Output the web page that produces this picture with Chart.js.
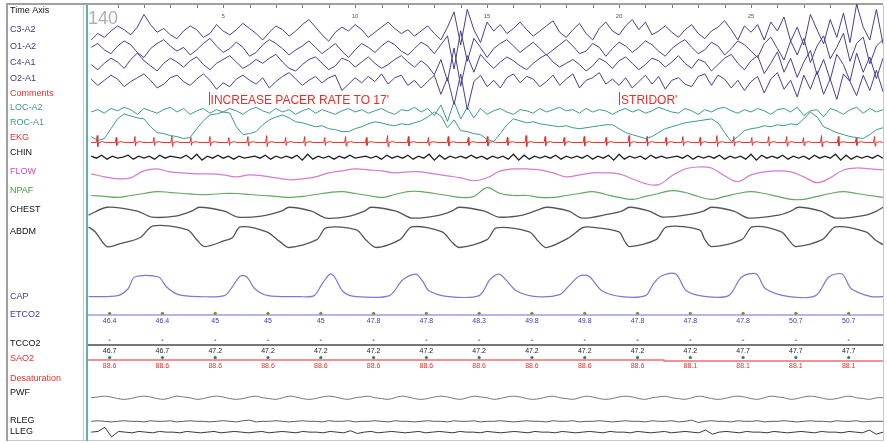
<!DOCTYPE html>
<html>
<head>
<meta charset="utf-8">
<script src="https://cdn.jsdelivr.net/npm/chart.js@4.4.1/dist/chart.umd.min.js"></script>
<style>
body { margin: 0; background: #fff; }
#wrap { width: 887px; height: 443px; position: relative; }
</style>
</head>
<body>
<div id="wrap"><canvas id="psg"></canvas></div>
<script>
// epoch 140, 30 s page
const tStart = 0, tEnd = 30;
const timeTicks = [5, 10, 15, 20, 25];
const epochNo = '140';

const channelNames = ['Time Axis', 'C3-A2', 'O1-A2', 'C4-A1', 'O2-A1', 'Comments', 'LOC-A2', 'ROC-A1', 'EKG', 'CHIN',
  'FLOW', 'NPAF', 'CHEST', 'ABDM', 'CAP', 'ETCO2', 'TCCO2', 'SAO2', 'Desaturation', 'PWF', 'RLEG', 'LLEG'];

// EEG, sampled every 0.25 s
const c3a2 = [-2,3,0,5,9,6,2,8,18,10,4,7,2,-1,5,9,6,0,3,10,5,
  2,6,11,7,3,-2,4,9,6,1,5,10,14,8,2,-3,4,8,5,10,
  6,0,4,8,12,7,3,6,1,5,9,3,-2,8,20,-6,22,6,-4,12,
  5,10,3,7,12,6,1,5,9,13,4,0,6,11,3,-2,7,12,5,2,
  9,14,6,12,2,5,9,4,0,6,10,3,-1,5,8,13,6,-2,9,4,
  10,-2,12,5,16,-3,8,-6,18,6,-5,14,0,19,-4,26,8,-2,22,-5];
const o1a2 = [3,6,1,-2,4,8,5,-1,-5,2,6,9,4,0,3,-3,1,6,10,4,-1,
  2,7,3,-4,-1,5,9,6,2,-3,1,4,8,3,-2,2,6,0,-5,1,
  6,3,-1,4,8,5,0,-3,2,7,4,-2,5,12,-14,16,-8,10,3,-5,
  2,6,9,4,-1,3,7,2,-3,1,5,9,4,-2,0,6,3,-4,2,7,
  4,-1,3,8,5,0,-4,2,6,9,3,-2,1,7,4,-3,2,8,5,0,
  -5,6,11,2,-7,8,-3,10,-9,4,12,-6,3,14,-8,6,11,-10,4,9];
const c4a1 = [1,-3,2,6,3,-2,5,10,4,0,-4,2,6,3,-1,4,7,1,-3,2,5,
  8,3,-2,1,5,2,6,9,3,-2,-4,1,5,7,2,-3,0,6,4,-1,
  3,7,2,-2,1,5,8,3,-1,4,0,-7,5,-12,14,-16,8,-5,9,3,
  -2,3,7,4,0,-3,2,6,9,3,-1,2,5,1,-4,0,6,3,-2,4,
  7,2,-3,1,6,4,-1,3,8,2,-2,5,3,-4,1,6,9,2,-3,4,
  8,-6,2,11,-5,6,-9,3,12,-7,5,-11,9,1,-12,10,-5,7,-10,6];
const o2a1 = [2,-3,1,5,2,-4,0,3,6,1,-5,-2,3,5,0,-3,2,6,1,-6,-1,
  -4,2,5,1,-2,3,-5,0,4,7,2,-3,1,4,-1,3,5,-7,-2,3,
  -1,4,0,6,-2,3,5,-3,1,-5,0,5,-10,3,-18,6,-22,0,5,-4,
  1,-5,3,6,-1,4,2,-4,0,5,-3,2,6,-5,1,3,7,-2,2,-3,
  3,-5,0,5,-2,4,-6,1,3,-2,-4,4,6,-3,5,2,-5,1,-7,0,
  4,-9,2,7,-6,1,-12,5,-6,8,-10,2,-14,6,0,-11,5,-7,9,-8];

// EOG, every 0.25 s
const locA2 = [0,2,-1,3,1,4,2,-2,3,1,-1,2,4,0,3,-2,1,3,-1,2,0,
  3,1,-2,2,4,1,-1,3,0,2,-2,1,3,-1,2,0,-2,1,3,0,
  2,-1,1,3,0,-2,2,1,4,0,3,-3,6,-8,9,-6,4,-5,3,-2,
  1,3,0,-2,2,1,-1,3,0,2,4,1,2,-1,3,0,2,1,-2,1,
  3,0,2,-1,1,4,2,0,-1,3,1,-2,2,0,3,4,1,-1,2,0,
  3,1,-2,2,3,0,4,-3,1,2,-4,3,1,-2,2,4,-1,3,0,2];
const rocA1 = [-12,-16,-14,-4,6,11,9,7,6,-2,-8,-9,-11,-12,-14,-13,-4,4,10,11,13,
  12,-2,-10,-9,-7,0,5,8,10,7,3,2,0,-2,-1,-4,-5,-7,-7,-4,
  -2,1,3,2,0,-1,1,0,2,4,8,13,9,-3,5,-6,-7,-9,-10,-15,
  -17,-9,0,6,4,2,3,1,0,-1,-2,-1,-3,-4,-3,-2,-1,0,0,-4,
  -8,-10,-12,-14,-12,-8,-4,-2,0,2,3,4,5,6,2,-8,-17,-12,-6,-4,
  -3,-1,-2,0,-1,1,0,6,13,8,-2,-5,-8,-10,-12,-13,-14,-10,-5,-3];

// EKG: R-wave times (s) and their heights
const ekgBeats = [0.23,0.95,1.66,2.38,3.06,3.78,4.5,5.22,5.94,6.65,7.37,8.09,8.85,9.64,10.43,11.23,12.02,12.78,13.53,14.29,
  15.01,15.77,16.48,17.2,17.92,18.68,19.51,20.38,21.06,21.78,22.42,23.07,23.71,24.35,25.03,25.67,26.35,26.99,27.67,28.31,28.99,29.68];
const ekgHeights = [7,5,6,5,7,5,6,5,6,7,5,6,5,6,5,7,6,5,6,5,6,5,7,6,5,6,5,7,6,5,6,5,7,6,5,6,6,5,7,6,5,6];

// CHIN EMG, every 0.2 s
const chin = [1,-1,2,-2,1,-1,0,2,-2,1,-1,1,-2,2,-1,1,0,-1,2,-2,3,-3,1,-1,2,-1,1,-2,1,-1,
  0,1,-1,2,-2,1,-1,1,-1,2,-3,3,-2,1,-1,1,-2,1,-1,2,-1,0,1,-1,1,-2,2,-1,1,-1,
  2,-2,1,-1,3,-3,2,-2,1,-1,1,-1,2,-1,1,-2,1,-1,1,-2,3,-3,2,-2,1,-1,1,-1,2,-2,
  1,-1,1,-1,2,-2,1,-1,2,-3,3,-2,1,-1,1,-2,2,-1,1,-1,0,1,-1,2,-2,1,-1,1,-1,2,
  -2,1,-1,1,-2,3,-3,2,-1,1,-1,2,-2,1,-1,1,-2,2,-1,1,-1,3,-3,2,-2,1,-1,1,-1,2,-1];

// airflow, every 0.5 s
const flow = [0,-3,-5,-4,3,5,2,1,0,0,-1,-3,-1,-2,-4,-6,-5,-3,1,3,5,4,3,1,2,2,0,-2,-4,-7,
  -4,3,5,5,4,1,-3,-1,1,1,0,-5,-10,-11,-2,5,7,6,-2,-8,-1,2,3,2,-3,-9,-4,4,6,5,4];
const npaf = [0,-1,-2,0,2,4,3,2,1,1,2,2,1,0,-1,-2,-1,1,3,4,2,0,-2,1,4,4,2,0,-2,-1,
  8,2,0,0,-2,-2,0,2,4,1,-2,-4,-1,2,5,3,-1,-4,-1,2,4,2,-1,-4,-4,-1,2,4,2,0,-2];

// effort belts and capnogram, [time s, value]
const chest = [[-0.1,-3],[0.6,5],[1.75,1],[2.3,-5],[3.2,-4],[3.8,1],[4.1,5],[5.05,1],[5.55,-5],[6.45,-4],[7.2,1],[7.5,5],
  [8.35,1],[8.9,-6],[9.8,-4],[10.35,1],[10.6,5],[11.55,1],[12.15,-6],[13.2,-3],[13.65,1],[13.95,5],[14.9,1],[15.45,-5],
  [16.35,-3],[16.9,2],[17.25,5],[18.1,1],[18.6,-6],[19.6,-2],[20.1,1],[20.4,5],[21.15,1],[21.65,-5],[22.75,-2],[23.2,1],
  [23.5,5],[24.35,1],[24.9,-6],[26.05,-3],[26.5,1],[26.8,5],[27.65,1],[28.2,-6],[29.35,-3],[29.75,1],[30,5]];
const abdm = [[-0.1,10],[0.15,5],[0.6,-10],[1.1,-7],[1.85,-1],[2.35,11],[3.65,7],[4.0,-3],[4.3,-10],[5.05,-4],[5.35,-1],
  [5.65,10],[6.65,5],[7.15,-5],[7.5,-11],[8.55,-3],[8.9,9],[10.05,7],[10.4,-3],[10.8,-11],[11.7,-3],[12.15,10],[13.3,5],
  [13.65,-5],[13.95,-11],[15.0,-3],[15.35,9],[16.6,5],[16.95,-5],[17.25,-11],[18.1,-1],[18.6,9],[18.85,10],[20.0,5],
  [20.2,-4],[20.4,-10],[21.4,-3],[21.8,10],[23.05,7],[23.25,-3],[23.5,-10],[24.65,-3],[25.05,10],[26.15,5],[26.45,-4],
  [26.7,-10],[27.7,-3],[28.2,10],[29.35,5],[29.7,-3],[30,-8]];
const cap = [[-0.1,0],[1.0,1],[1.4,8],[1.65,20],[2.55,20],[2.85,10],[3.3,2],[4.1,0],[5.05,1],[5.35,10],[5.65,21],[5.9,20],
  [6.2,8],[6.7,1],[7.9,0],[8.45,1],[8.75,13],[9.05,23],[9.2,21],[9.55,5],[10.05,0],[11.3,1],[11.8,17],[12.3,23],[12.55,16],
  [12.8,6],[13.55,0],[14.7,1],[15.1,17],[15.45,23],[15.75,16],[16.1,6],[16.85,0],[17.75,2],[18.1,11],[18.5,21],[18.85,21],
  [19.35,6],[20.1,0],[21.0,1],[21.3,13],[21.6,21],[22.15,23],[22.55,6],[23.3,0],[24.15,1],[24.65,20],[25.2,23],[25.55,8],
  [26.45,0],[27.45,1],[27.95,20],[28.45,23],[28.8,8],[29.55,0],[30,0]];

// trend values, one every 2 s
const trendTimes = [0.7,2.7,4.7,6.7,8.7,10.7,12.7,14.7,16.7,18.7,20.7,22.7,24.7,26.7,28.7];
const etco2 = [46.4,46.4,45,45,45,47.8,47.8,48.3,49.8,49.8,47.8,47.8,47.8,50.7,50.7];
const tcco2 = [46.7,46.7,47.2,47.2,47.2,47.2,47.2,47.2,47.2,47.2,47.2,47.2,47.7,47.7,47.7];
const sao2 = [88.6,88.6,88.6,88.6,88.6,88.6,88.6,88.6,88.6,88.6,88.6,88.1,88.1,88.1,88.1];

// pulse wave and legs, every 0.25 s
const pwf = [0,1,2,1,-1,-2,-1,1,2,1,-1,-2,0,2,1,0,-2,-1,1,2,1,-1,-2,-1,1,2,0,-1,-2,0,2,1,-1,-2,-1,1,2,1,-1,-2,
  0,1,2,0,-1,-2,0,2,1,-1,-2,-1,1,2,1,-1,-2,0,2,1,0,-2,-1,1,2,1,-1,-2,-1,1,2,0,-1,-2,0,2,1,-1,-2,-1,
  1,2,1,-1,-2,0,1,2,0,-1,-2,0,2,1,-1,-2,-1,1,2,1,-1,-2,0,2,1,0,-2,-1,1,2,1,-1,-2,-1,1,2,0,-1,-2,0,0];
const rleg = [0,1,0,-1,0,1,0,0,-1,1,0,0,1,-1,0,1,0,0,-1,0,1,0,-1,1,2,-1,0,0,1,0,-1,0,1,0,0,-1,1,0,0,1,
  -1,0,0,1,0,-1,1,0,0,-1,0,1,0,0,-1,1,0,0,1,-1,0,0,1,0,-1,0,1,0,0,-1,1,0,0,1,-1,0,0,1,0,-1,
  0,1,0,0,-1,1,0,0,1,-1,0,2,-2,0,1,0,0,-1,1,0,0,1,-1,0,0,1,0,-1,0,1,0,0,-1,1,0,0,1,-1,0,0,0];
const lleg = [0,1,7,-7,1,0,-1,1,0,-1,1,0,0,-1,1,0,-1,0,1,-1,0,1,0,-1,0,1,-1,0,1,0,-1,1,0,0,-1,1,0,-1,2,-2,
  0,1,-1,0,1,0,-1,0,1,-1,0,1,0,-1,1,0,0,-1,1,0,-1,0,1,0,-1,1,0,0,-1,1,0,-1,0,1,0,-1,1,0,0,-1,
  1,0,-1,0,1,-1,0,1,0,-1,3,-3,0,1,0,-1,1,0,0,-1,1,0,-1,0,1,0,-1,1,0,0,-1,1,0,-1,3,-3,0];

const commentTimes = [4.45, 20.0];
const commentTexts = ["INCREASE PACER RATE TO 17'", "STRIDOR'"];

// ---- layout (pixel rows of the montage) ----
const labelY = [11,30,47,63,79,94,108,123,138,153,172,191,210,232,297,315,344,359,379,393,421,432];
const RED = '#e5302c', NAVY = '#46418e', TEAL = '#3a9a8e';
const labelColor = ['#111','#3d3a8a','#3d3a8a','#3d3a8a','#3d3a8a',RED,TEAL,TEAL,RED,'#111','#d04cc8','#3f9a3f','#111','#111',
  '#3b3bb0','#3b3bb0','#111',RED,RED,'#111','#111','#111'];

function onGrid(vals, base, gain) {
  const n = vals.length;
  return vals.map((v, i) => ({ x: tStart + i * (tEnd - tStart) / (n - 1), y: base - v * gain }));
}
function onKnots(pts, base, gain) {
  return pts.map(p => ({ x: p[0], y: base - p[1] * gain }));
}
function ekgTrace(base) {
  const pts = [{ x: tStart, y: base }];
  ekgBeats.forEach((tb, i) => {
    const h = ekgHeights[i];
    pts.push({ x: tb - 0.04, y: base }, { x: tb, y: base - h }, { x: tb + 0.02, y: base + h * 0.6 },
      { x: tb + 0.05, y: base }, { x: tb + 0.2, y: base - 0.8 }, { x: tb + 0.3, y: base });
  });
  pts.push({ x: tEnd, y: base });
  return pts;
}
function line(data, color, width, tension) {
  return { data, borderColor: color, borderWidth: width, tension: tension || 0, pointRadius: 0, fill: false };
}

const datasets = [
  line(onGrid(c3a2, 34, 1.3), NAVY, 1),
  line(onGrid(o1a2, 48, 1.3), NAVY, 1),
  line(onGrid(c4a1, 63, 1.3), NAVY, 1),
  line(onGrid(o2a1, 79, 1.3), NAVY, 1),
  line(onGrid(locA2, 110, 1.2), TEAL, 1),
  line(onGrid(rocA1, 123, 1), TEAL, 1),
  line(ekgTrace(141), RED, 1),
  line(onGrid(chin, 156, 1), '#222', 1.3),
  line(onGrid(flow, 173, 1), '#d27bd2', 1.2, 0.4),
  line(onGrid(npaf, 195, 1), '#62a862', 1.2, 0.4),
  line(onKnots(chest, 212, 1), '#555', 1.3, 0.3),
  line(onKnots(abdm, 237, 1), '#555', 1.3, 0.3),
  line(onKnots(cap, 298, 1), '#7b78d6', 1.2, 0.3),
  line(onGrid(pwf, 401, 0.8), '#777', 1, 0.4),
  line(onGrid(rleg, 425, 0.6), '#333', 0.8),
  line(onGrid(lleg, 436, 0.7), '#222', 0.9),
  { data: trendTimes.map(t => ({ x: t, y: 315 })), showLine: false, pointRadius: 1.6, pointBackgroundColor: '#8c8a2a', pointBorderWidth: 0 },
  { data: trendTimes.map(t => ({ x: t, y: 342.5 })), showLine: false, pointStyle: 'triangle', pointRadius: 1.6, pointBackgroundColor: '#999', pointBorderWidth: 0 },
  { data: trendTimes.map(t => ({ x: t, y: 360 })), showLine: false, pointRadius: 1.6, pointBackgroundColor: '#2a7a7a', pointBorderWidth: 0 }
];

function trendLine(ctx, xs, area, vals, base, gain, color, width) {
  const yOf = v => base + (vals[0] - v) * gain;
  ctx.strokeStyle = color; ctx.lineWidth = width;
  ctx.beginPath();
  ctx.moveTo(area.left, yOf(vals[0]));
  for (let i = 1; i < vals.length; i++) {
    const xm = xs.getPixelForValue((trendTimes[i - 1] + trendTimes[i]) / 2);
    ctx.lineTo(xm, yOf(vals[i - 1]));
    ctx.lineTo(xm, yOf(vals[i]));
  }
  ctx.lineTo(area.right, yOf(vals[vals.length - 1]));
  ctx.stroke();
}

const montage = {
  id: 'montage',
  beforeDatasetsDraw(chart) {
    const ctx = chart.ctx, xs = chart.scales.x, a = chart.chartArea;
    ctx.save();
    // frame
    ctx.fillStyle = '#a0a0a0';
    ctx.fillRect(6, 3, a.right - 6, 2);
    ctx.fillRect(6, 3, 2, 438);
    ctx.fillStyle = '#c8c8c8';
    ctx.fillRect(83, 5, 1, 436);
    ctx.fillRect(a.right, 5, 1, 436);
    ctx.fillRect(8, 440, a.right - 8, 1);
    ctx.fillStyle = '#5fb0a8';
    ctx.fillRect(86, 5, 2, 436);
    // epoch number
    ctx.fillStyle = 'rgba(140,140,140,0.7)';
    ctx.font = '18px "Liberation Sans", Arial, sans-serif';
    ctx.textBaseline = 'alphabetic';
    ctx.fillText(epochNo, 88, 24);
    // time axis
    ctx.strokeStyle = '#777'; ctx.lineWidth = 1;
    for (let s = 1; s < tEnd; s++) {
      const x = Math.round(xs.getPixelForValue(s)) + 0.5;
      ctx.beginPath(); ctx.moveTo(x, 5); ctx.lineTo(x, 8); ctx.stroke();
    }
    ctx.fillStyle = '#555';
    ctx.font = '6px "Liberation Sans", Arial, sans-serif';
    ctx.textAlign = 'center'; ctx.textBaseline = 'middle';
    timeTicks.forEach(t => ctx.fillText(String(t), xs.getPixelForValue(t), 16));
    // trend channels
    trendLine(ctx, xs, a, etco2, 315, 0, '#6a6ad8', 1);
    trendLine(ctx, xs, a, tcco2, 345, 0, '#777', 2);
    trendLine(ctx, xs, a, sao2, 360, 2, '#ee7070', 1.5);
    ctx.restore();
  },
  afterDatasetsDraw(chart) {
    const ctx = chart.ctx, xs = chart.scales.x;
    ctx.save();
    // channel labels
    ctx.font = '9px "Liberation Sans", Arial, sans-serif';
    ctx.textAlign = 'left'; ctx.textBaseline = 'middle';
    channelNames.forEach((n, i) => { ctx.fillStyle = labelColor[i]; ctx.fillText(n, 10, labelY[i]); });
    // comments
    ctx.font = '12px "Liberation Sans", Arial, sans-serif';
    ctx.textBaseline = 'alphabetic';
    commentTimes.forEach((t, i) => {
      const x = xs.getPixelForValue(t);
      ctx.fillStyle = RED;
      ctx.fillRect(Math.round(x), 92, 1, 13);
      ctx.fillText(commentTexts[i], x + 2, 104);
    });
    // trend value labels
    ctx.font = '7px "Liberation Sans", Arial, sans-serif';
    ctx.textAlign = 'center'; ctx.textBaseline = 'middle';
    trendTimes.forEach((t, i) => {
      const x = xs.getPixelForValue(t);
      ctx.fillStyle = '#3b3bb0'; ctx.fillText(String(etco2[i]), x, 321);
      ctx.fillStyle = '#222'; ctx.fillText(String(tcco2[i]), x, 351);
      ctx.fillStyle = RED; ctx.fillText(String(sao2[i]), x, 366);
    });
    ctx.restore();
  }
};

new Chart(document.getElementById('psg'), {
  type: 'line',
  data: { datasets },
  options: {
    responsive: true,
    maintainAspectRatio: false,
    animation: false,
    devicePixelRatio: 1,
    layout: { padding: { left: 88, right: 3, top: 0, bottom: 0 } },
    plugins: { legend: { display: false }, tooltip: { enabled: false } },
    scales: {
      x: { type: 'linear', min: -0.12, max: 30, display: false },
      y: { min: 0, max: 443, reverse: true, display: false }
    }
  },
  plugins: [montage]
});
</script>
</body>
</html>
